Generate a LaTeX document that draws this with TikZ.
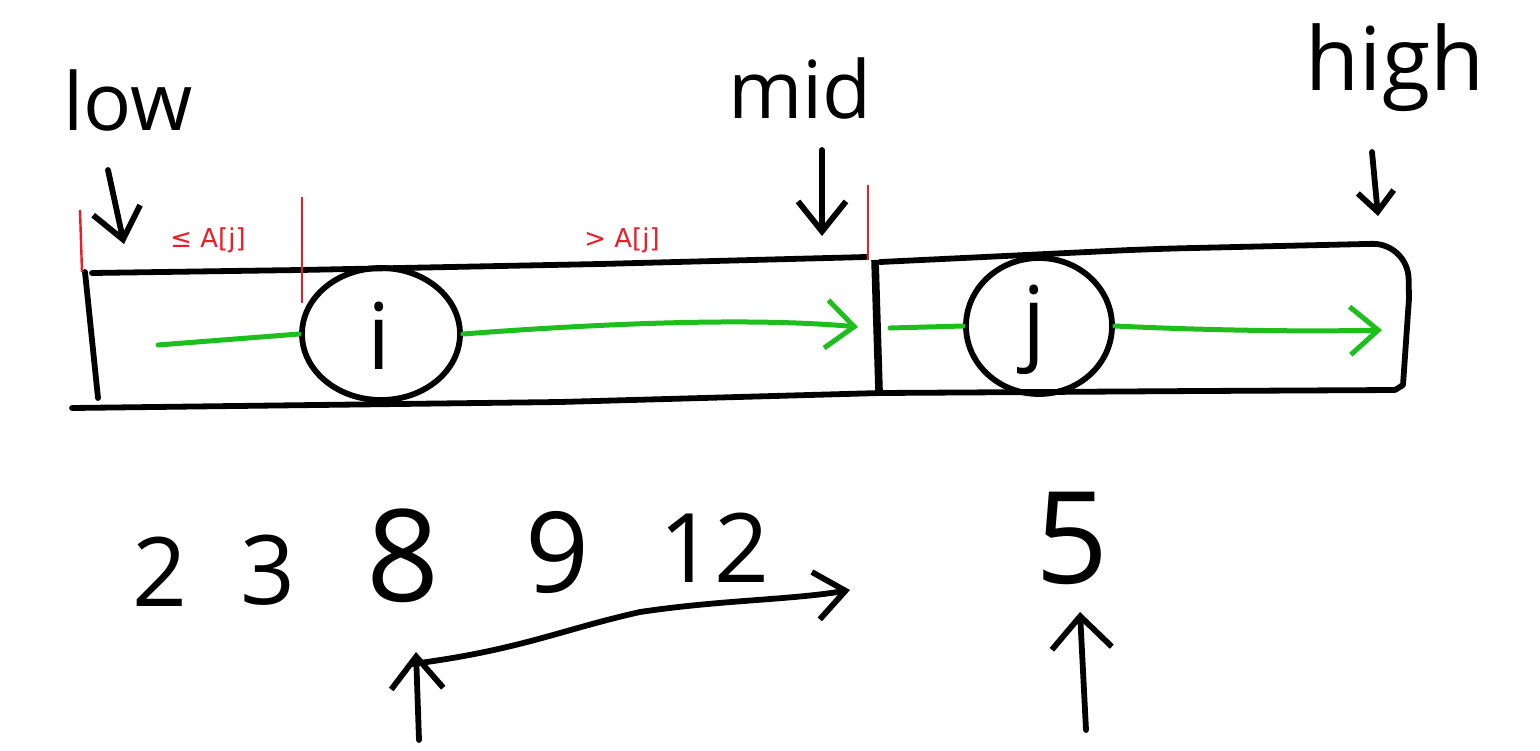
\documentclass[tikz,border=0pt]{standalone}
\usepackage{fontspec}
\newfontfamily\hand{Open Sans}
\newfontfamily\lab{DejaVu Sans}
\usetikzlibrary{arrows.meta,shapes.geometric}
\definecolor{handgreen}{RGB}{30,190,30}
\definecolor{markred}{RGB}{232,30,40}
\tikzset{
  ink/.style={draw=black,line width=2.9pt,line cap=round,line join=round},
  grn/.style={draw=handgreen,line width=2.5pt,line cap=round,line join=round},
  redmark/.style={draw=markred,line width=1.2pt},
  barb/.style={-{Straight Barb[length=15pt,width=24pt]}},
  smallbarb/.style={-{Straight Barb[length=10pt,width=18pt]}},
  upbarb/.style={-{Straight Barb[length=16pt,width=26pt]}},
  widebarb/.style={-{Straight Barb[length=16pt,width=30pt]}},
  gbarb/.style={-{Straight Barb[length=14pt,width=24pt]}},
  ring/.style={draw=black,line width=2.9pt,ellipse,inner sep=0pt},
  handtxt/.style={font=\hand\fontsize{40}{44}\selectfont,inner sep=0pt},
  numtxt/.style={font=\hand\fontsize{56}{60}\selectfont,inner sep=0pt},
  smallnum/.style={font=\hand\fontsize{48}{52}\selectfont,inner sep=0pt},
  bignum/.style={font=\hand\fontsize{64}{68}\selectfont,inner sep=0pt},
  redtxt/.style={font=\lab\fontsize{13}{15}\selectfont,text=markred,inner sep=0pt},
  lettxt/.style={font=\hand\fontsize{46}{50}\selectfont,inner sep=0pt}
}
\begin{document}
\begin{tikzpicture}[x=0.5pt,y=-0.5pt]
\useasboundingbox (0,0) rectangle (1540,750);
\fill[white] (0,0) rectangle (1540,750);

% top labels
\node[handtxt] (low) at (128,100) {low};
\node[handtxt] (mid) at (800,88) {mid};
\node[font=\hand\fontsize{44}{48}\selectfont,inner sep=0pt] (high) at (1395,68) {high};

% box outline
\draw[ink] (92,273) -- (300,270) -- (600,264) -- (866,257);
\draw[ink] (85,272) -- (98,398);
\draw[ink] (72,408) -- (560,402) -- (880,393) -- (1200,391) -- (1394,390);
\draw[ink,rounded corners=18pt] (880,262) -- (1150,249) -- (1408,243) -- (1409,300);
\draw[ink] (1409,298) -- (1403,385) -- (1395,390);
\draw[draw=black,line width=3.8pt] (875,260) -- (879,390);

% red markers
\draw[redmark] (80,210) -- (82,272);
\draw[redmark] (302,197) -- (302,303);
\draw[redmark] (868,185) -- (868,260);
\node[redtxt] (le) at (208,240) {≤ A[j]};
\node[redtxt] (gt) at (622,240) {> A[j]};

% pointer arrows
\coordinate (lowS) at (108,170);
\coordinate (lowE) at (124,244);
\coordinate (midS) at (822,150);
\coordinate (midE) at (822,236);
\coordinate (highS) at (1372,152);
\coordinate (highE) at (1378,216);
\draw[ink,barb] (lowS) -- (lowE);
\draw[ink,barb] (midS) -- (midE);
\draw[ink,smallbarb] (highS) -- (highE);

% circles
\node[ring,minimum width=79pt,minimum height=66pt] (ci) at (381,334) {};
\node[lettxt] (itxt) at (379,336) {i};
\node[ring,minimum width=73pt,minimum height=68pt] (cj) at (1039,326) {};
\node[lettxt] (jtxt) at (1034,330) {j};

% green scans
\coordinate (g1) at (158,345);
\draw[grn] (g1) -- (ci.west);
\coordinate (g2e) at (858,327);
\draw[grn,gbarb] (ci.east) .. controls (620,322) and (760,318) .. (g2e);
\coordinate (g3) at (890,328);
\draw[grn] (g3) -- (cj.west);
\coordinate (g4e) at (1382,330);
\draw[grn,gbarb] (cj.east) .. controls (1200,330) and (1300,332) .. (g4e);

% numbers
\node[smallnum] (n2) at (160,572) {2};
\node[smallnum] (n3) at (268,570) {3};
\node[bignum] (n8) at (403,556) {8};
\node[numtxt] (n9) at (558,552) {9};
\node[smallnum] (n12) at (714,548) {12};
\node[bignum] (n5) at (1072,538) {5};

% bottom arrows
\coordinate (u8s) at (419,740);
\coordinate (u8e) at (416,652);
\draw[ink,upbarb] (u8s) -- (u8e);
\coordinate (c8) at (412,664);
\coordinate (c8e) at (850,590);
\draw[ink,barb] (c8) .. controls (520,650) and (560,630) .. (640,612) .. controls (720,600) and (790,600) .. (c8e);
\coordinate (u5s) at (1086,730);
\coordinate (u5e) at (1080,612);
\draw[ink,widebarb] (u5s) -- (u5e);
\end{tikzpicture}
\end{document}
